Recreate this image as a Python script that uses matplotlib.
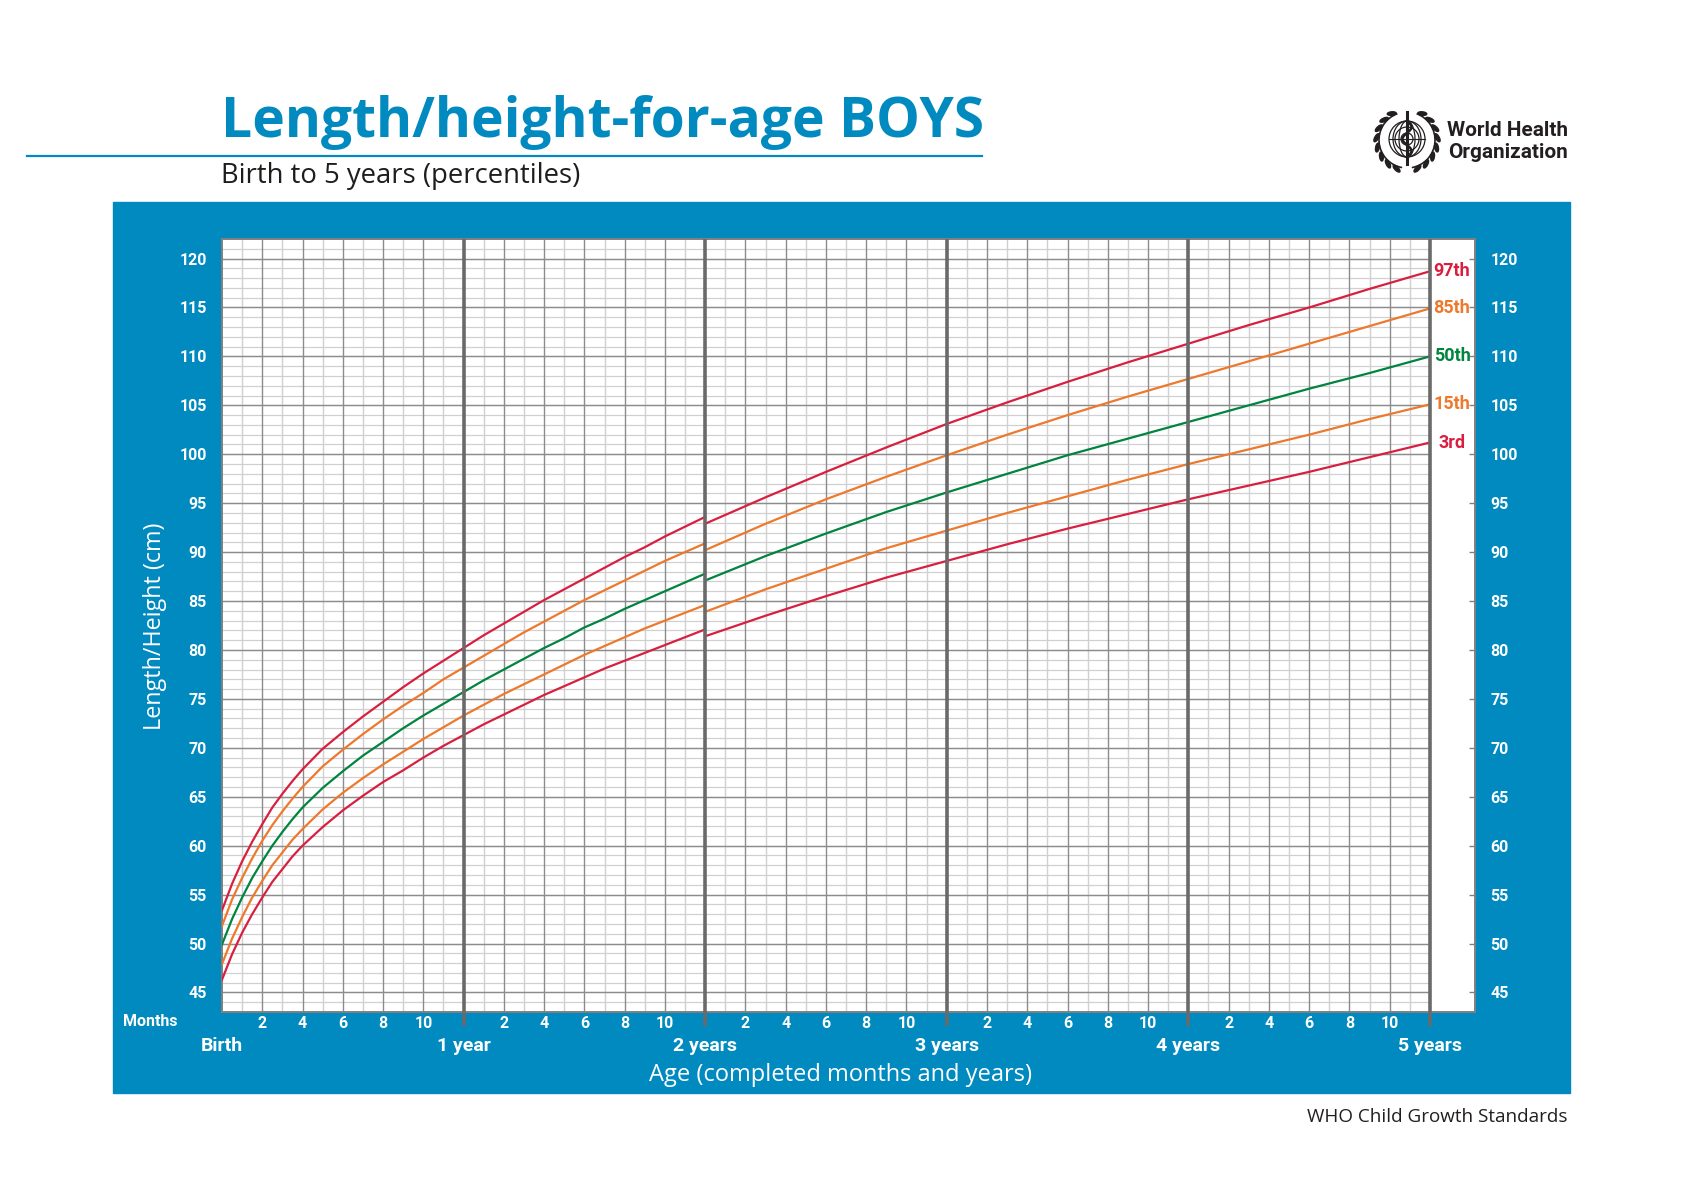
import numpy as np
import matplotlib
matplotlib.use("Agg")
import matplotlib.pyplot as plt
from matplotlib import font_manager
from matplotlib.patches import Rectangle, Circle, Ellipse, Arc

# WHO length-for-age (birth - 2 y, lying) and height-for-age (2 - 5 y, standing), boys
months_len = [0, 0.5, 1, 1.5, 2, 2.5, 3, 3.5, 4, 5, 6, 7, 8, 9, 10, 11, 12,
              13, 14, 15, 16, 17, 18, 19, 20, 21, 22, 23, 24]
p3_len = [46.3, 48.9, 51.1, 53.0, 54.7, 56.3, 57.6, 58.9, 60.0, 61.9, 63.6, 65.1, 66.5,
          67.7, 69.0, 70.2, 71.3, 72.4, 73.4, 74.4, 75.4, 76.3, 77.2, 78.1, 78.9, 79.7,
          80.5, 81.3, 82.1]
p15_len = [47.9, 50.5, 52.7, 54.7, 56.4, 58.0, 59.3, 60.6, 61.7, 63.7, 65.4, 66.9, 68.3,
           69.6, 70.9, 72.1, 73.3, 74.4, 75.5, 76.5, 77.5, 78.5, 79.5, 80.4, 81.3, 82.2,
           83.0, 83.8, 84.6]
p50_len = [49.9, 52.5, 54.7, 56.7, 58.4, 60.0, 61.4, 62.7, 63.9, 65.9, 67.6, 69.2, 70.6,
           72.0, 73.3, 74.5, 75.7, 76.9, 78.0, 79.1, 80.2, 81.2, 82.3, 83.2, 84.2, 85.1,
           86.0, 86.9, 87.8]
p85_len = [51.8, 54.5, 56.7, 58.7, 60.5, 62.1, 63.5, 64.8, 66.0, 68.1, 69.8, 71.4, 72.9,
           74.3, 75.6, 77.0, 78.2, 79.4, 80.6, 81.8, 82.9, 84.0, 85.1, 86.1, 87.1, 88.1,
           89.1, 90.0, 90.9]
p97_len = [53.4, 56.1, 58.4, 60.4, 62.2, 63.9, 65.3, 66.6, 67.8, 69.9, 71.6, 73.2, 74.7,
           76.2, 77.6, 78.9, 80.2, 81.5, 82.7, 83.9, 85.1, 86.2, 87.3, 88.4, 89.5, 90.5,
           91.6, 92.6, 93.6]

months_ht = [24, 27, 30, 33, 36, 39, 42, 45, 48, 51, 54, 57, 60]
p3_ht = [81.4, 83.5, 85.5, 87.4, 89.1, 90.8, 92.4, 93.9, 95.4, 96.8, 98.2, 99.7, 101.2]
p15_ht = [83.9, 86.2, 88.3, 90.4, 92.2, 94.0, 95.7, 97.4, 99.0, 100.5, 102.0, 103.6, 105.1]
p50_ht = [87.1, 89.6, 91.9, 94.1, 96.1, 98.0, 99.9, 101.6, 103.3, 105.0, 106.7, 108.3, 110.0]
p85_ht = [90.2, 92.9, 95.4, 97.7, 99.9, 102.0, 104.0, 105.9, 107.7, 109.5, 111.3, 113.1, 114.9]
p97_ht = [92.9, 95.6, 98.2, 100.7, 103.1, 105.3, 107.4, 109.4, 111.3, 113.2, 115.0, 116.9, 118.7]

pct_names = ["3rd", "15th", "50th", "85th", "97th"]
year_months = [0, 12, 24, 36, 48, 60]
year_labels = ["Birth", "1 year", "2 years", "3 years", "4 years", "5 years"]

BLUE = "#008ac0"
RED = "#d91f3f"
ORANGE = "#ee782c"
GREEN = "#00843f"
DARK = "#231f20"
pct_colors = [RED, ORANGE, GREEN, ORANGE, RED]

installed = {f.name for f in font_manager.fontManager.ttflist}
narrow = "Liberation Sans Narrow" if "Liberation Sans Narrow" in installed else "Roboto"
plain = "Open Sans"

W, H = 1683, 1190
fig = plt.figure(figsize=(W / 100, H / 100), dpi=100)

# background layer in pixel coordinates
bg = fig.add_axes([0, 0, 1, 1])
bg.set_xlim(0, W)
bg.set_ylim(H, 0)
bg.axis("off")
bg.add_patch(Rectangle((113, 202), 1570 - 113, 1093 - 202, color=BLUE, zorder=0))
bg.plot([27, 982], [156, 156], color=BLUE, lw=1.6)

# chart
left, right, top, bottom = 222, 1475, 239, 1012
ax = fig.add_axes([left / W, 1 - bottom / H, (right - left) / W, (bottom - top) / H])
ax.set_facecolor("white")
ax.set_xlim(0, 62.24)
ax.set_ylim(43, 122)

m = np.arange(1, 60)
ax.hlines(np.arange(44, 122), 0, 60, color="#d0d0d0", lw=0.9, zorder=1)
ax.hlines(np.arange(45, 121, 5), 0, 60, color="#8c8c8c", lw=1.0, zorder=1.2)
ax.vlines(m[m % 2 == 1], 43, 122, color="#d0d0d0", lw=1.0, zorder=1.1)
ax.vlines(m[(m % 2 == 0) & (m % 12 != 0)], 43, 122, color="#8c8c8c", lw=1.0, zorder=1.3)
px_per_cm = (bottom - top) / 79
ax.vlines(year_months[1:], 43 - 14 / px_per_cm, 122, color="#6a6a6a", lw=2.6,
          zorder=4, clip_on=False)

len_series = [p3_len, p15_len, p50_len, p85_len, p97_len]
ht_series = [p3_ht, p15_ht, p50_ht, p85_ht, p97_ht]
for ys_len, ys_ht, c, name in zip(len_series, ht_series, pct_colors, pct_names):
    ax.plot(months_len, ys_len, color=c, lw=1.6, zorder=3)
    ax.plot(months_ht, ys_ht, color=c, lw=1.6, zorder=3)
    ax.text(61.1, ys_ht[-1], name, color=c, ha="center", va="center",
            fontsize=13, fontweight="bold", family=narrow)

for s in ax.spines.values():
    s.set_color("#808080")
    s.set_linewidth(1.4)

yt = np.arange(45, 121, 5)
ax.set_yticks(yt, labels=[str(v) for v in yt], fontweight="bold", family=narrow,
              fontsize=11.5, color="white")
ax.tick_params(axis="y", left=False, right=True, direction="in", length=4, width=1,
               color="#808080", labelleft=True, labelright=True, pad=11)

xt = m[(m % 2 == 0) & (m % 12 != 0)]
ax.set_xticks(xt, labels=[str(v % 12) for v in xt], fontweight="bold", family=narrow,
              fontsize=11.5, color="white")
ax.tick_params(axis="x", length=0, pad=3)

ylab_axes = (bottom - 1046) / (bottom - top)
for xm, lab in zip(year_months, year_labels):
    ax.text(xm, ylab_axes, lab, transform=ax.get_xaxis_transform(), ha="center",
            va="center", color="white", fontsize=14, fontweight="bold", family=narrow)

bg.text(150, 1022, "Months", ha="center", va="center", color="white", fontsize=11.5,
        fontweight="bold", family=narrow)

# headings and footnote
title = bg.text(221, 137, "Length/height-for-age BOYS", color=BLUE, fontsize=40,
                fontweight="bold", family=plain, va="baseline")
subtitle = bg.text(221, 183, "Birth to 5 years (percentiles)", color="#1d1d1b",
                   fontsize=18, family=plain, va="baseline")
xlabel = bg.text(841, 1075, "Age (completed months and years)", color="white",
                 fontsize=18, family=plain, ha="center", va="center")
ylabel = bg.text(155, 626, "Length/Height (cm)", color="white", fontsize=18,
                 family=plain, ha="center", va="center", rotation=90)
foot = bg.text(1568, 1117, "WHO Child Growth Standards", color=DARK, fontsize=13,
               family=plain, ha="right", va="center")
who1 = bg.text(1568, 131, "World Health", color=DARK, fontsize=15, fontweight="bold",
               family=narrow, ha="right", va="center")
who2 = bg.text(1568, 152, "Organization", color=DARK, fontsize=15, fontweight="bold",
               family=narrow, ha="right", va="center")

renderer = fig.canvas.get_renderer()


def fit(txt, size_px, vertical=False):
    bb = txt.get_window_extent(renderer)
    cur = bb.height if vertical else bb.width
    txt.set_fontsize(txt.get_fontsize() * size_px / cur)


fit(title, 763)
fit(subtitle, 359)
fit(xlabel, 382)
fit(ylabel, 208, vertical=True)
fit(foot, 259)
fit(who2, 120)
who1.set_fontsize(who2.get_fontsize())

# WHO emblem: globe, staff with serpent, laurel
cx, cy = 1407, 139
kw = dict(fill=False, ec=DARK, lw=0.9)
bg.add_patch(Circle((cx, cy), 18, **kw))
bg.add_patch(Circle((cx, cy), 12, **kw))
bg.add_patch(Circle((cx, cy), 6, **kw))
bg.add_patch(Ellipse((cx, cy), 16, 36, **kw))
bg.add_patch(Ellipse((cx, cy), 28, 36, **kw))
bg.plot([cx - 18, cx + 18], [cy, cy], color=DARK, lw=0.8)
bg.plot([cx, cx], [112, 164], color=DARK, lw=2.2)
sy = np.linspace(121, 157, 80)
bg.plot(cx + 4.5 * np.sin((sy - 121) / 36 * 3 * np.pi), sy, color=DARK, lw=1.8)
bg.add_patch(Arc((cx, cy + 1), 56, 56, theta1=100, theta2=250, ec=DARK, lw=1.2))
bg.add_patch(Arc((cx, cy + 1), 56, 56, theta1=-70, theta2=80, ec=DARK, lw=1.2))
for a in np.linspace(110, 240, 8):
    r = np.radians(a)
    lx, ly = 30.5 * np.cos(r), cy + 1 + 30.5 * np.sin(r)
    bg.add_patch(Ellipse((cx + lx, ly), 9, 3.6, angle=a + 90 + 25, color=DARK))
    bg.add_patch(Ellipse((cx - lx, ly), 9, 3.6, angle=90 - a - 25, color=DARK))

fig.savefig("out.png", dpi=100)
